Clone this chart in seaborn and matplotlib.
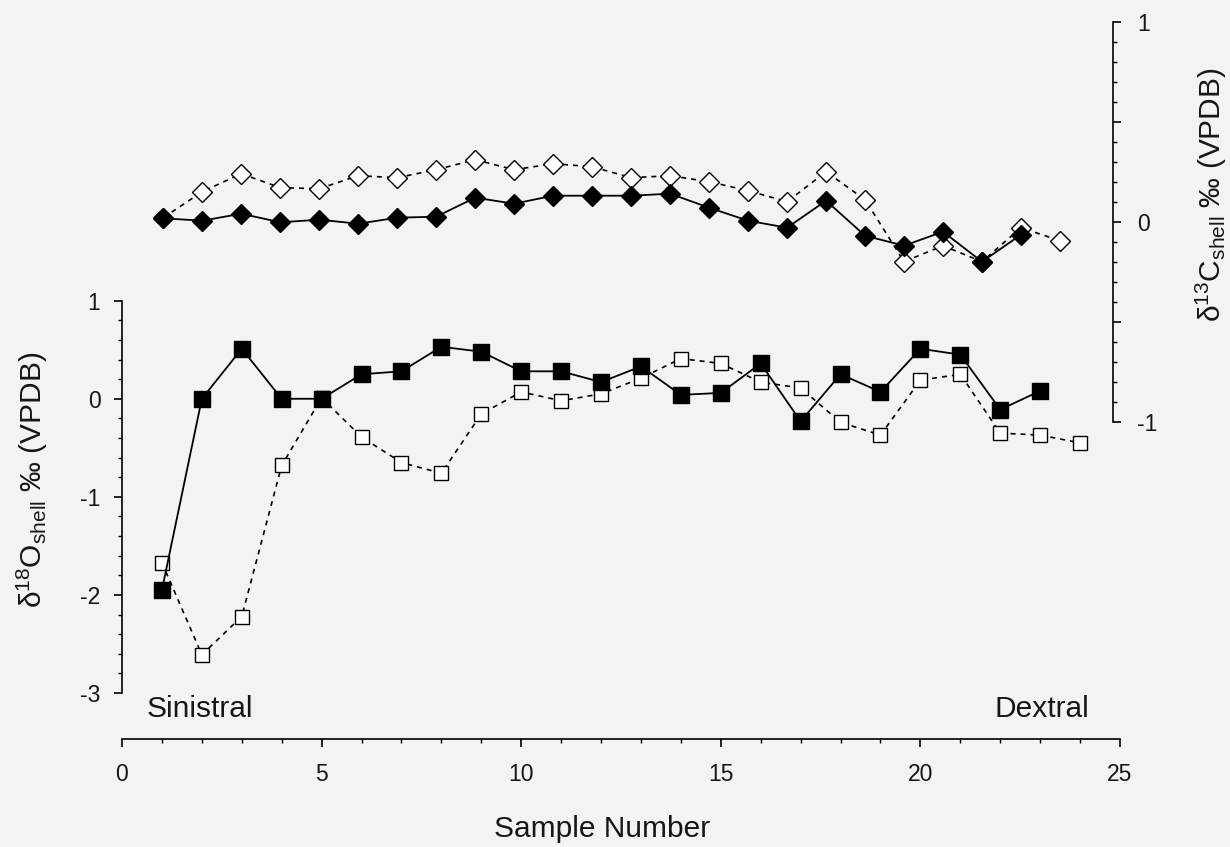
import matplotlib
matplotlib.use("Agg")
import matplotlib.pyplot as plt
import seaborn as sns
import numpy as np
from matplotlib.ticker import MultipleLocator, FixedLocator, FuncFormatter

# sample numbers
samples_filled = list(range(1, 24))
samples_open = list(range(1, 25))

# d18O shell values (filled = sinistral-side series, open = second series)
d18o_filled = [-1.95, 0.00, 0.51, 0.00, 0.00, 0.25, 0.28, 0.53, 0.48, 0.28, 0.28, 0.17,
               0.33, 0.04, 0.06, 0.36, -0.23, 0.25, 0.07, 0.51, 0.45, -0.11, 0.08]
d18o_open = [-1.67, -2.61, -2.22, -0.68, 0.01, -0.39, -0.65, -0.76, -0.155, 0.07, -0.02, 0.05,
             0.21, 0.41, 0.36, 0.17, 0.11, -0.24, -0.37, 0.19, 0.25, -0.35, -0.37, -0.45]

# d13C shell values
d13c_filled = [0.017, 0.005, 0.04, -0.003, 0.01, -0.01, 0.02, 0.025, 0.12, 0.09, 0.13, 0.13,
               0.13, 0.14, 0.07, 0.005, -0.03, 0.105, -0.07, -0.12, -0.05, -0.2, -0.065]
d13c_open = [0.02, 0.15, 0.24, 0.17, 0.165, 0.23, 0.22, 0.26, 0.31, 0.26, 0.29, 0.275,
             0.22, 0.23, 0.2, 0.155, 0.10, 0.25, 0.11, -0.2, -0.12, -0.2, -0.03, -0.095]

bg = "#f3f3f2"
sns.set_theme(style="ticks")
plt.rcParams["font.family"] = ["Liberation Sans", "DejaVu Sans"]
plt.rcParams["mathtext.fontset"] = "custom"
plt.rcParams["mathtext.rm"] = "Liberation Sans"
plt.rcParams["mathtext.default"] = "regular"
plt.rcParams["axes.linewidth"] = 1.2
plt.rcParams["axes.unicode_minus"] = False

W, H = 1230, 847
fig = plt.figure(figsize=(12.3, 8.47), dpi=100, facecolor=bg)

# oxygen panel (bottom)
ax_o = fig.add_axes([122 / W, 1 - 739 / H, 998 / W, (739 - 300.7) / H])
ax_o.patch.set_visible(False)
# carbon panel (top, own x scaling)
ax_c = fig.add_axes([122 / W, 1 - 421.7 / H, (1113 - 122) / W, 400 / H])
ax_c.patch.set_visible(False)

solid = dict(color="black", linewidth=1.3, linestyle="-", errorbar=None)
dashed = dict(color="black", linewidth=1.2, linestyle=(0, (3, 3)), errorbar=None)

# open series first so filled markers sit on top
sns.lineplot(x=samples_open, y=d18o_open, ax=ax_o, marker="s", markersize=10.5,
             markerfacecolor="white", markeredgecolor="black", markeredgewidth=1.0, **dashed)
sns.lineplot(x=samples_filled, y=d18o_filled, ax=ax_o, marker="s", markersize=11.5,
             markerfacecolor="black", markeredgecolor="black", markeredgewidth=1.0, **solid)

sns.lineplot(x=samples_open, y=d13c_open, ax=ax_c, marker="D", markersize=10,
             markerfacecolor="white", markeredgecolor="black", markeredgewidth=1.0, **dashed)
sns.lineplot(x=samples_filled, y=d13c_filled, ax=ax_c, marker="D", markersize=10.6,
             markerfacecolor="black", markeredgecolor="black", markeredgewidth=1.0, **solid)

txt = "#161616"

# --- oxygen axes styling
ax_o.set_xlim(0, 25)
ax_o.set_ylim(-3 - 46 / 98.1, 1)
for s in ["top", "right"]:
    ax_o.spines[s].set_visible(False)
ax_o.spines["left"].set_bounds(-3, 1)
ax_o.spines["left"].set_color("black")
ax_o.spines["bottom"].set_color("black")
ax_o.xaxis.set_major_locator(MultipleLocator(5))
ax_o.xaxis.set_minor_locator(MultipleLocator(1))
ax_o.yaxis.set_major_locator(FixedLocator([-3, -2, -1, 0, 1]))
ax_o.yaxis.set_minor_locator(FixedLocator(np.round(np.arange(-3, 1.01, 0.2), 1)))
ax_o.tick_params(axis="both", which="major", direction="out", length=5.5, width=1.2,
                 color="black", labelsize=16.5, labelcolor=txt)
ax_o.tick_params(axis="x", which="major", pad=12)
ax_o.tick_params(axis="y", which="major", pad=10)
ax_o.tick_params(axis="both", which="minor", direction="out", length=3.2, width=1.0, color="black")
ax_o.set_xlabel("Sample Number", fontsize=21.5, color=txt)
ax_o.xaxis.label.set_va("baseline")
ax_o.xaxis.set_label_coords(0.481, (739 - 837) / 438.3)
ax_o.set_ylabel("δ$^{18}$O$_{shell}$ ‰ (VPDB)", fontsize=21.5, color=txt)
ax_o.yaxis.label.set_va("baseline")
ax_o.yaxis.set_label_coords((42 - 122) / 998, (739 - 480) / 438.3)

ax_o.text((147 - 122) / 998, (739 - 717) / 438.3, "Sinistral", transform=ax_o.transAxes,
          fontsize=21.5, color=txt, va="baseline", ha="left")
ax_o.text((1089 - 122) / 998, (739 - 717) / 438.3, "Dextral", transform=ax_o.transAxes,
          fontsize=21.5, color=txt, va="baseline", ha="right")

# --- carbon axes styling
ax_c.set_xlim(-0.059, 25.36)
ax_c.set_ylim(-1, 1)
for s in ["top", "left", "bottom"]:
    ax_c.spines[s].set_visible(False)
ax_c.spines["right"].set_color("black")
ax_c.xaxis.set_visible(False)
ax_c.yaxis.tick_right()
ax_c.yaxis.set_label_position("right")
ax_c.yaxis.set_major_locator(MultipleLocator(0.5))
ax_c.yaxis.set_minor_locator(MultipleLocator(0.1))
ax_c.yaxis.set_major_formatter(FuncFormatter(lambda v, p: f"{v:.0f}" if abs(v - round(v)) < 1e-6 else ""))
ax_c.tick_params(axis="y", which="major", direction="out", length=5.5, width=1.2,
                 color="black", labelsize=16.5, labelcolor=txt, pad=12)
ax_c.tick_params(axis="y", which="minor", direction="out", length=3.2, width=1.0, color="black")
ax_c.set_ylabel("δ$^{13}$C$_{shell}$ ‰ (VPDB)", fontsize=21.5, color=txt, rotation=90)
ax_c.yaxis.label.set_va("baseline")
ax_c.yaxis.label.set_rotation_mode("anchor")
ax_c.yaxis.set_label_coords((1221 - 122) / 991, (421.7 - 195) / 400)

fig.savefig("out.png", dpi=100, facecolor=bg)
